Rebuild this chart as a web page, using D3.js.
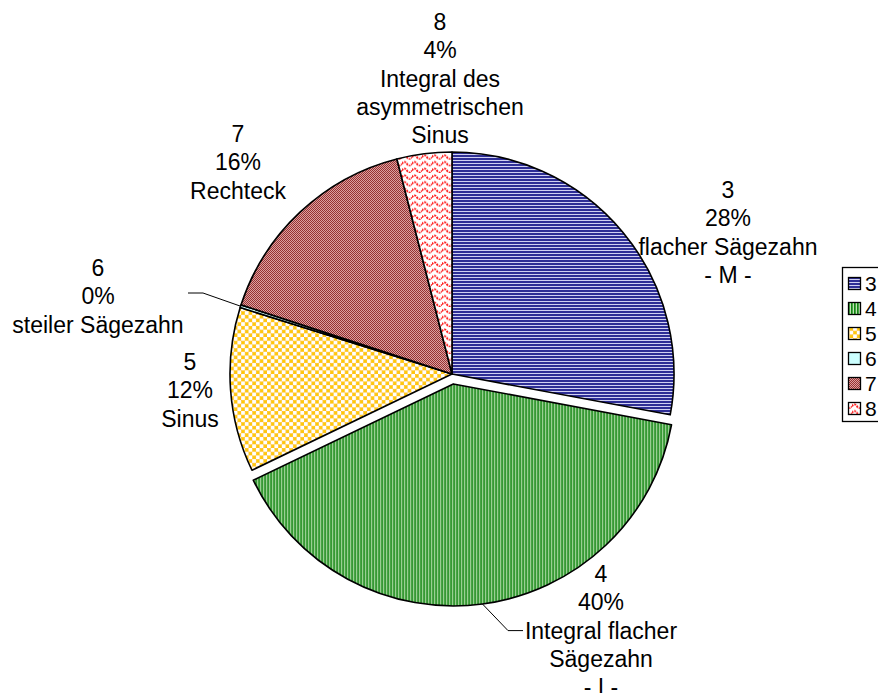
<!DOCTYPE html>
<html>
<head>
<meta charset="utf-8">
<script src="https://cdn.jsdelivr.net/npm/d3@7/dist/d3.min.js"></script>
<style>
  body { margin: 0; background: #fff; }
  svg text { font-family: "Liberation Sans", Arial, sans-serif; fill: #000; }
</style>
</head>
<body>
<svg width="878" height="693"></svg>
<script>
// categories and values (percent of total)
var categories = ["3", "4", "5", "6", "7", "8"];
var values = [28, 40, 12, 0.2, 16, 4];
var names = [
  ["flacher Sägezahn", "- M -"],
  ["Integral flacher", "Sägezahn", "- I -"],
  ["Sinus"],
  ["steiler Sägezahn"],
  ["Rechteck"],
  ["Integral des", "asymmetrischen", "Sinus"]
];

var svg = d3.select("svg"),
  width = +svg.attr("width"),
  height = +svg.attr("height");

var cx = 452, cy = 374, radius = 222;
var explode = [0, 10, 0, 0, 0, 0];
// first-line centre of each label block, relative to the pie centre
var labelAt = [[276, -184], [149, 200], [-262, -12], [-354, -106], [-214, -240], [-12, -352]];
var lineH = 28.3;

var defs = svg.append("defs");

// slice 3: horizontal blue stripes
var p = defs.append("pattern").attr("id", "pat0").attr("patternUnits", "userSpaceOnUse")
  .attr("width", 6).attr("height", 3);
p.append("rect").attr("width", 6).attr("height", 3).attr("fill", "#d0d0f2");
p.append("rect").attr("width", 6).attr("height", 2).attr("fill", "#2e2e96");

// slice 4: vertical green stripes
p = defs.append("pattern").attr("id", "pat1").attr("patternUnits", "userSpaceOnUse")
  .attr("width", 3).attr("height", 6);
p.append("rect").attr("width", 3).attr("height", 6).attr("fill", "#bfe3b6");
p.append("rect").attr("width", 1.7).attr("height", 6).attr("fill", "#128612");

// slice 5: yellow confetti
p = defs.append("pattern").attr("id", "pat2").attr("patternUnits", "userSpaceOnUse")
  .attr("width", 7.4).attr("height", 7.4);
p.append("rect").attr("width", 7.4).attr("height", 7.4).attr("fill", "#fff");
p.append("rect").attr("x", 0.5).attr("y", 0.5).attr("width", 3).attr("height", 3)
  .attr("fill", "#ffcc00").attr("stroke", "#ffb000").attr("stroke-width", 0.5);
p.append("rect").attr("x", 4.2).attr("y", 4.2).attr("width", 3).attr("height", 3)
  .attr("fill", "#ffcc00").attr("stroke", "#ffb000").attr("stroke-width", 0.5);

// slice 6: light cyan
p = defs.append("pattern").attr("id", "pat3").attr("patternUnits", "userSpaceOnUse")
  .attr("width", 4).attr("height", 4);
p.append("rect").attr("width", 4).attr("height", 4).attr("fill", "#ccffff");

// slice 7: small checker
p = defs.append("pattern").attr("id", "pat4").attr("patternUnits", "userSpaceOnUse")
  .attr("width", 2).attr("height", 2);
p.append("rect").attr("width", 2).attr("height", 2).attr("fill", "#dca0a0");
p.append("rect").attr("width", 1).attr("height", 1).attr("fill", "#963232");
p.append("rect").attr("x", 1).attr("y", 1).attr("width", 1).attr("height", 1).attr("fill", "#963232");

// slice 8: red waves
p = defs.append("pattern").attr("id", "pat5").attr("patternUnits", "userSpaceOnUse")
  .attr("width", 10).attr("height", 6.7);
p.append("rect").attr("width", 10).attr("height", 6.7).attr("fill", "#fff");
p.append("path").attr("d", "M0,4.3 Q2.5,0.3 5,4.3 T10,4.3").attr("fill", "none")
  .attr("stroke", "#ff1a1a").attr("stroke-width", 1.9).attr("stroke-dasharray", "2,1");

var pie = d3.pie().sort(null).value(function(d) { return d; });
var arcs = pie(values);
var arc = d3.arc().innerRadius(0).outerRadius(radius);

function mid(d) { return (d.startAngle + d.endAngle) / 2; }

var g = svg.append("g").attr("transform", "translate(" + cx + "," + cy + ")");

g.selectAll("path.slice")
  .data(arcs)
  .enter().append("path")
  .attr("class", "slice")
  .attr("d", arc)
  .attr("transform", function(d, i) {
    var a = mid(d);
    return "translate(" + (Math.sin(a) * explode[i]) + "," + (-Math.cos(a) * explode[i]) + ")";
  })
  .attr("fill", function(d, i) { return "url(#pat" + i + ")"; })
  .attr("stroke", "#000")
  .attr("stroke-width", 1.6)
  .attr("stroke-linejoin", "round");

var fmt = d3.format(".0%");
var total = d3.sum(values);

// labels
arcs.forEach(function(d, i) {
  var lines = [categories[i], fmt(values[i] / total)].concat(names[i]);
  var t = g.append("text")
    .attr("text-anchor", "middle")
    .style("font-size", "23px");
  lines.forEach(function(s, k) {
    t.append("tspan")
      .attr("x", labelAt[i][0])
      .attr("y", labelAt[i][1] + k * lineH)
      .attr("dy", "0.35em")
      .text(s);
  });
});

// leader lines for the tiny slice 6 and the exploded slice 4
function edgePoint(d, i) {
  var a = mid(d), e = explode[i];
  return [Math.sin(a) * (radius + e), -Math.cos(a) * (radius + e)];
}
var line = d3.line();
var l6 = labelAt[3];
g.append("path")
  .attr("d", line([edgePoint(arcs[3], 3), [l6[0] + 105, l6[1] + 25], [l6[0] + 90, l6[1] + 25]]))
  .attr("fill", "none").attr("stroke", "#000").attr("stroke-width", 1);
var l4 = labelAt[1];
g.append("path")
  .attr("d", line([edgePoint(arcs[1], 1), [l4[0] - 93, l4[1] + lineH * 2], [l4[0] - 78, l4[1] + lineH * 2]]))
  .attr("fill", "none").attr("stroke", "#000").attr("stroke-width", 1);

// legend
var leg = svg.append("g").attr("transform", "translate(842,267)");
var rowH = 25;
leg.append("rect")
  .attr("x", 0.5).attr("y", 0.5)
  .attr("width", 60).attr("height", categories.length * rowH + 4)
  .attr("fill", "#fff").attr("stroke", "#000").attr("stroke-width", 1.3);
var row = leg.selectAll("g.row")
  .data(categories)
  .enter().append("g")
  .attr("class", "row")
  .attr("transform", function(d, i) { return "translate(0," + (10 + i * rowH) + ")"; });
row.append("rect")
  .attr("x", 6.5).attr("y", 0.5).attr("width", 12).attr("height", 12)
  .attr("fill", function(d, i) { return "url(#pat" + i + ")"; })
  .attr("stroke", "#000").attr("stroke-width", 1.3);
row.append("text")
  .attr("x", 23).attr("y", 6.5).attr("dy", "0.35em")
  .style("font-size", "21px")
  .text(function(d) { return d; });
</script>
</body>
</html>
